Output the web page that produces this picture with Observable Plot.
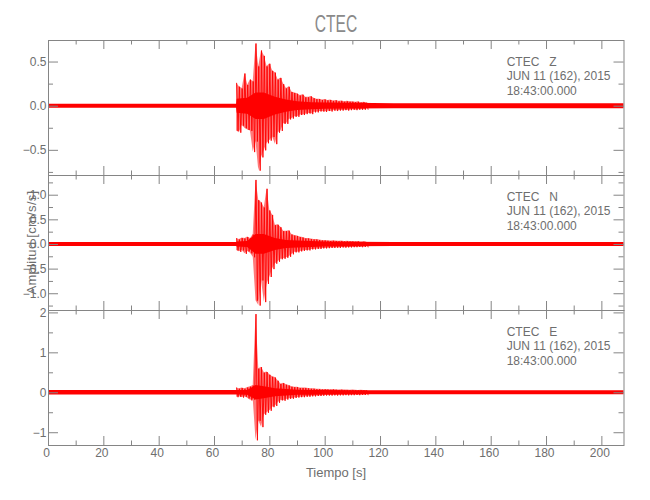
<!DOCTYPE html>
<html><head><meta charset="utf-8">
<script src="https://cdn.jsdelivr.net/npm/d3@7"></script>
<script src="https://cdn.jsdelivr.net/npm/@observablehq/plot@0.6"></script>
<style>
body{margin:0;background:#fff;}
#chart{position:relative;width:650px;height:500px;overflow:hidden;font-family:'Liberation Sans',Arial,sans-serif;color:#6e6e6e;}
#chart svg{position:absolute;left:0;}
.t{position:absolute;white-space:pre;}
</style></head><body><div id="chart"></div>
<script>
// ---- data ----
const title = "CTEC";
const yLabel = "Amplitud [cm/s/s]";
const xLabel = "Tiempo [s]";
const components = ["Z", "N", "E"];
const stamp = ["JUN 11 (162), 2015", "18:43:00.000"];

const xMajor = [0, 20, 40, 60, 80, 100, 120, 140, 160, 180, 200];
const xMinor = [10, 30, 50, 70, 90, 110, 130, 150, 170, 190];

// peak times (s) of the strong-motion part; each bin holds a max then a min
const zigT = [68,69,70,71,72,73,74,75,76,77,78,79,80,81,82,83,84,85,86,87,88,89,90,91,92,93,94,95,96,97,98,99,100,101,102,103,104,105,106,107,108,109,110,111,112,113,114,115];

const zHi = [0.26,0.22,0.2,0.37,0.24,0.3,0.28,0.71,0.45,0.63,0.57,0.45,0.48,0.4,0.38,0.3,0.32,0.25,0.2,0.22,0.16,0.15,0.14,0.12,0.13,0.1,0.1,0.11,0.09,0.08,0.08,0.07,0.075,0.065,0.07,0.06,0.065,0.055,0.06,0.05,0.055,0.05,0.05,0.045,0.05,0.04,0.045,0.04];
const zLo = [-0.28,-0.3,-0.22,-0.25,-0.27,-0.28,-0.52,-0.4,-0.73,-0.58,-0.5,-0.42,-0.39,-0.35,-0.43,-0.3,-0.28,-0.2,-0.2,-0.15,-0.14,-0.12,-0.12,-0.1,-0.1,-0.09,-0.08,-0.09,-0.07,-0.07,-0.06,-0.06,-0.065,-0.055,-0.06,-0.05,-0.055,-0.05,-0.05,-0.045,-0.05,-0.045,-0.04,-0.045,-0.04,-0.04,-0.04,-0.035];

const nHi = [0.12,0.1,0.13,0.12,0.15,0.12,0.2,1.31,0.9,0.85,0.75,1.13,0.69,0.6,0.39,0.4,0.35,0.27,0.27,0.28,0.2,0.18,0.17,0.15,0.14,0.12,0.12,0.11,0.1,0.1,0.09,0.08,0.08,0.075,0.07,0.075,0.07,0.065,0.07,0.06,0.065,0.06,0.06,0.055,0.06,0.05,0.055,0.05];
const nLo = [-0.12,-0.15,-0.12,-0.19,-0.14,-0.18,-0.26,-1.14,-1.24,-0.73,-1.17,-0.8,-0.66,-0.5,-0.39,-0.35,-0.3,-0.29,-0.27,-0.25,-0.2,-0.16,-0.16,-0.14,-0.13,-0.12,-0.12,-0.1,-0.1,-0.09,-0.09,-0.08,-0.08,-0.075,-0.07,-0.07,-0.065,-0.07,-0.06,-0.065,-0.06,-0.06,-0.055,-0.055,-0.05,-0.055,-0.05,-0.05];

const eHi = [0.12,0.1,0.12,0.1,0.13,0.15,0.18,1.97,0.6,0.64,0.5,0.52,0.45,0.4,0.38,0.3,0.22,0.24,0.2,0.18,0.15,0.14,0.14,0.12,0.12,0.12,0.11,0.1,0.1,0.09,0.09,0.08,0.085,0.08,0.075,0.08,0.075,0.07,0.075,0.07,0.07,0.065,0.07,0.065,0.06,0.065,0.06,0.06];
const eLo = [-0.11,-0.1,-0.12,-0.1,-0.14,-0.19,-0.17,-1.19,-0.7,-0.86,-0.55,-0.5,-0.45,-0.36,-0.33,-0.25,-0.19,-0.2,-0.17,-0.15,-0.15,-0.13,-0.12,-0.11,-0.11,-0.1,-0.1,-0.09,-0.09,-0.08,-0.08,-0.075,-0.07,-0.07,-0.07,-0.065,-0.07,-0.065,-0.065,-0.06,-0.065,-0.06,-0.06,-0.055,-0.06,-0.055,-0.055,-0.05];

// dense noise core (half-width of the solid band)
const coreT = [0, 68, 68.2, 72, 75, 78, 82, 86, 90, 95, 100, 110, 125, 208];
const zCore = [0.022,0.022,0.08,0.09,0.15,0.15,0.1,0.07,0.05,0.04,0.035,0.032,0.028,0.028];
const nCore = [0.04,0.04,0.05,0.06,0.2,0.2,0.12,0.08,0.07,0.06,0.05,0.045,0.042,0.04];
const eCore = [0.055,0.055,0.055,0.06,0.18,0.15,0.1,0.08,0.065,0.06,0.055,0.052,0.05,0.05];

const zDomain = [-0.785, 0.744], nDomain = [-1.34, 1.40], eDomain = [-1.32, 2.06];
const zYMajor = [-0.5, 0, 0.5], zYMinor = [-0.75, -0.25, 0.25];
const nYMajor = [-1, -0.5, 0, 0.5, 1], nYMinor = [-1.25, -0.75, -0.25, 0.25, 0.75, 1.25];
const eYMajor = [-1, 0, 1, 2], eYMinor = [-0.5, 0.5, 1.5];

// ---- drawing ----
const RED = "#ff0000", PINK = "#ff7a7a", GRAY = "#858585";
const chart = document.getElementById("chart");
const ML = 48, MR = 26.5, PH = 135, FW = 650 - ML - MR;

function panel(o) {
  const zig = [];
  zigT.forEach((t, i) => { zig.push({t, v: o.hi[i]}); zig.push({t: t + 0.5, v: o.lo[i]}); });
  const marks = [
    Plot.area(zigT, {x1: zigT, y1: o.lo, y2: o.hi, fill: PINK}),
    Plot.area(coreT, {x1: coreT, y1: o.core.map(a => -a), y2: o.core, fill: RED}),
    Plot.line(zig, {x: "t", y: "v", stroke: RED, strokeWidth: 0.9}),
    Plot.frame({stroke: GRAY}),
    Plot.ruleX(xMajor, {x: d => d, stroke: GRAY, insetBottom: PH - 9}),
    Plot.ruleX(xMajor, {x: d => d, stroke: GRAY, insetTop: PH - 9}),
    Plot.ruleX(xMinor, {x: d => d, stroke: GRAY, insetBottom: PH - 4.5}),
    Plot.ruleX(xMinor, {x: d => d, stroke: GRAY, insetTop: PH - 4.5}),
    Plot.ruleY(o.yMajor, {y: d => d, stroke: GRAY, insetRight: FW - 10}),
    Plot.ruleY(o.yMajor, {y: d => d, stroke: GRAY, insetLeft: FW - 10}),
    Plot.ruleY(o.yMinor, {y: d => d, stroke: GRAY, insetRight: FW - 5}),
    Plot.ruleY(o.yMinor, {y: d => d, stroke: GRAY, insetLeft: FW - 5}),
    Plot.axisY(o.yMajor, {tickSize: 0, tickPadding: 2, tickFormat: o.fmt, label: null})
  ];
  if (o.xAxis) marks.push(Plot.axisX(xMajor, {tickSize: 0, tickPadding: 3, tickFormat: d3.format("d"), label: null, dx: -2}));
  const svg = Plot.plot({
    width: 650, height: PH + o.mt + o.mb,
    marginLeft: ML, marginRight: MR, marginTop: o.mt, marginBottom: o.mb,
    x: {domain: [0, 208], axis: o.xAxis ? undefined : null},
    y: {domain: o.domain},
    style: {background: "none", overflow: "visible", fontFamily: "'Liberation Sans',Arial,sans-serif", fontSize: "12px", color: "#6e6e6e"},
    marks
  });
  svg.style.top = (o.top - o.mt) + "px";
  chart.appendChild(svg);
  const ann = document.createElement("div");
  ann.className = "t";
  ann.style.cssText = `left:506.7px;top:${o.top + 14.7}px;font-size:12px;line-height:14.5px;`;
  ann.textContent = `${title}   ${o.comp}\n${stamp[0]}\n${stamp[1]}`;
  chart.appendChild(ann);
}

const f1 = d3.format(".1f"), f0 = d3.format("d");
panel({comp: components[0], hi: zHi, lo: zLo, core: zCore, domain: zDomain, yMajor: zYMajor, yMinor: zYMinor, fmt: f1, top: 40, mt: 10, mb: 10});
panel({comp: components[1], hi: nHi, lo: nLo, core: nCore, domain: nDomain, yMajor: nYMajor, yMinor: nYMinor, fmt: f1, top: 175, mt: 10, mb: 10});
panel({comp: components[2], hi: eHi, lo: eLo, core: eCore, domain: eDomain, yMajor: eYMajor, yMinor: eYMinor, fmt: f0, top: 310, mt: 10, mb: 40, xAxis: true});

function txt(s, css) { const d = document.createElement("div"); d.className = "t"; d.style.cssText = css; d.textContent = s; chart.appendChild(d); }
txt(title, "left:236px;width:200px;text-align:center;top:11.7px;font-size:24px;line-height:24px;color:#8a8a8a;transform:scaleX(0.65);");
txt(xLabel, "left:236px;width:200px;text-align:center;top:466px;font-size:13px;line-height:13px;");
txt(yLabel, "left:-69px;width:200px;text-align:center;top:235.5px;font-size:13px;line-height:13px;letter-spacing:0.3px;transform:rotate(-90deg);");
</script></body></html>
